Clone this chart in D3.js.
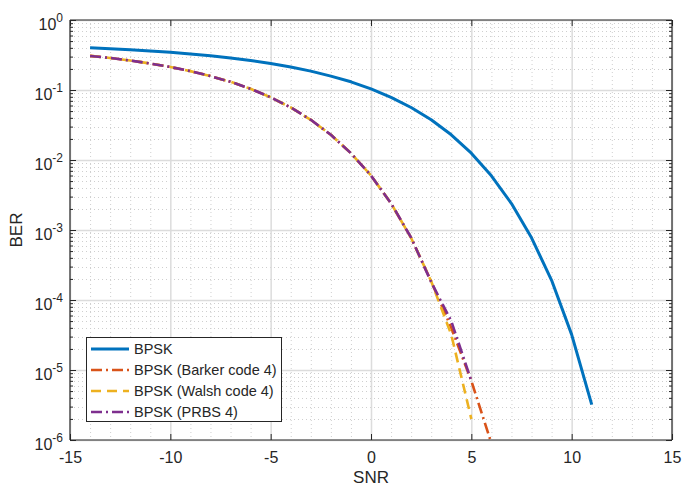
<!DOCTYPE html>
<html><head><meta charset="utf-8">
<script src="https://cdn.jsdelivr.net/npm/d3@7"></script>
<style>
html,body{margin:0;padding:0;background:#fff;}
text{font-family:"Liberation Sans",Arial,Helvetica,sans-serif;fill:#262626;}
</style></head>
<body><svg id="chart" width="682" height="488"></svg>
<script>
// ---- data ----
const snrBPSK   = [-14,-13,-12,-11,-10,-9,-8,-7,-6,-5,-4,-3,-2,-1,0,1,2,3,4,5,6,7,8,9,10,11];
const berBPSK   = [0.400,0.389,0.376,0.361,0.345,0.327,0.308,0.287,0.264,0.239,0.213,0.186,0.158,0.131,0.104,0.0786,0.0563,0.0375,0.0229,0.0125,0.00595,0.00239,0.000773,0.000191,3.2e-5,3.2e-6];
const snrBarker = [-14,-13,-12,-11,-10,-9,-8,-7,-6,-5,-4,-3,-2,-1,0,1,2,3,4,5,6];
const berBarker = [0.307,0.287,0.264,0.239,0.213,0.186,0.158,0.131,0.104,0.0786,0.0563,0.0375,0.0229,0.0125,0.0060,0.00240,0.00077,0.000185,4.0e-5,7.0e-6,9.0e-7];
const snrWalsh  = [-14,-13,-12,-11,-10,-9,-8,-7,-6,-5,-4,-3,-2,-1,0,1,2,3,4,5];
const berWalsh  = [0.307,0.287,0.264,0.239,0.213,0.186,0.158,0.131,0.104,0.0786,0.0563,0.0375,0.0229,0.0125,0.0060,0.00240,0.00077,0.000185,3.2e-5,2.0e-6];
const snrPRBS   = [-14,-13,-12,-11,-10,-9,-8,-7,-6,-5,-4,-3,-2,-1,0,1,2,3,4,5];
const berPRBS   = [0.306,0.287,0.264,0.239,0.213,0.186,0.158,0.131,0.104,0.0786,0.0563,0.0375,0.0229,0.0125,0.0060,0.00240,0.00078,0.000180,5.0e-5,7.0e-6];
const seriesNames = ["BPSK","BPSK (Barker code 4)","BPSK (Walsh code 4)","BPSK (PRBS 4)"];
const xTicks = [-15,-10,-5,0,5,10,15];
const yTicks = [1e-6,1e-5,1e-4,1e-3,1e-2,1e-1,1];
const yTickExp = ["-6","-5","-4","-3","-2","-1","0"];
const xLabel = "SNR", yLabel = "BER";

// ---- layout ----
const L=70,R=672,T=20,B=440;
const svg=d3.select("#chart");
const x=d3.scaleLinear().domain([-15,15]).range([L,R]);
const y=d3.scaleLog().domain([1e-6,1]).range([B,T]);

const colors=["#0072BD","#D95319","#EDB120","#7E2F8E"];
const dashes=[null,"11,4,2,4","10,6","11,4,2,4"];

// minor grid
const xMinor=[];for(let v=-15;v<=15;v++){if(v%5!==0)xMinor.push(v);}
const yMinor=[];for(let e=-6;e<0;e++){for(let m=2;m<=9;m++)yMinor.push(m*Math.pow(10,e));}
const grid=svg.append("g");
grid.selectAll(".xm").data(xMinor).enter().append("line")
 .attr("x1",d=>x(d)+0.5).attr("x2",d=>x(d)+0.5).attr("y1",T).attr("y2",B)
 .attr("stroke","#cfcfcf").attr("stroke-width",1).attr("stroke-dasharray","1,3");
grid.selectAll(".ym").data(yMinor).enter().append("line")
 .attr("y1",d=>Math.round(y(d))+0.5).attr("y2",d=>Math.round(y(d))+0.5).attr("x1",L).attr("x2",R)
 .attr("stroke","#cfcfcf").attr("stroke-width",1).attr("stroke-dasharray","1,3");
// major grid
grid.selectAll(".xg").data(xTicks).enter().append("line")
 .attr("x1",d=>x(d)+0.5).attr("x2",d=>x(d)+0.5).attr("y1",T).attr("y2",B)
 .attr("stroke","#dcdcdc").attr("stroke-width",1.5);
grid.selectAll(".yg").data(yTicks).enter().append("line")
 .attr("y1",d=>Math.round(y(d))+0.5).attr("y2",d=>Math.round(y(d))+0.5).attr("x1",L).attr("x2",R)
 .attr("stroke","#dcdcdc").attr("stroke-width",1.5);

// clip
svg.append("clipPath").attr("id","clip").append("rect").attr("x",L).attr("y",T).attr("width",R-L).attr("height",B-T);

const line=d3.line().x(d=>x(d[0])).y(d=>y(d[1]));
const allSeries=[
 d3.zip(snrBPSK,berBPSK),
 d3.zip(snrBarker,berBarker),
 d3.zip(snrWalsh,berWalsh),
 d3.zip(snrPRBS,berPRBS)
];
const lg=svg.append("g").attr("clip-path","url(#clip)");
allSeries.forEach((s,i)=>{
 lg.append("path").attr("d",line(s)).attr("fill","none")
  .attr("stroke",colors[i]).attr("stroke-width",i===0?3:2.6)
  .attr("stroke-dasharray",dashes[i]).attr("stroke-linejoin","round");
});

// axes
const axCol="#262626";
const xAxis=svg.append("g").attr("transform",`translate(0,${B})`)
 .call(d3.axisBottom(x).tickValues(xTicks).tickSize(-6).tickPadding(14).tickFormat(d=>d));
xAxis.selectAll("text").attr("font-size",16).attr("dy","0.55em");
const xTop=svg.append("g").attr("transform",`translate(0,${T})`)
 .call(d3.axisTop(x).tickValues(xTicks).tickSize(-6).tickFormat(""));
const yAxis=svg.append("g").attr("transform",`translate(${L},0)`)
 .call(d3.axisLeft(y).tickValues(yTicks).tickSize(-6).tickPadding(8).tickFormat(""));
const yRight=svg.append("g").attr("transform",`translate(${R},0)`)
 .call(d3.axisRight(y).tickValues(yTicks).tickSize(-6).tickFormat(""));
const yMinL=svg.append("g").attr("transform",`translate(${L},0)`)
 .call(d3.axisLeft(y).tickValues(yMinor).tickSize(-3).tickFormat(""));
const yMinR=svg.append("g").attr("transform",`translate(${R},0)`)
 .call(d3.axisRight(y).tickValues(yMinor).tickSize(-3).tickFormat(""));
[xAxis,xTop,yAxis,yRight,yMinL,yMinR].forEach(g=>{
 g.select(".domain").attr("stroke",axCol).attr("stroke-width",1.2);
 g.selectAll(".tick line").attr("stroke",axCol).attr("stroke-width",1);
 g.selectAll("text").attr("fill",axCol).attr("font-family","Liberation Sans, Arial, sans-serif");
});
xAxis.selectAll(".domain").attr("d",`M${L},0H${R}`);
xTop.selectAll(".domain").attr("d",`M${L},0H${R}`);
yAxis.selectAll(".domain").attr("d",`M0,${T}V${B}`);
yRight.selectAll(".domain").attr("d",`M0,${T}V${B}`);
yMinL.select(".domain").remove();yMinR.select(".domain").remove();

// y tick labels 10^n
const yl=svg.append("g");
yTicks.forEach((v,i)=>{
 const t=yl.append("text").attr("x",L-7).attr("y",y(v)+10).attr("text-anchor","end").attr("font-size",16);
 t.append("tspan").text("10");
 t.append("tspan").attr("dy",-8).attr("font-size",12).text(yTickExp[i]);
});

// axis labels
svg.append("text").attr("x",(L+R)/2).attr("y",483).attr("text-anchor","middle").attr("font-size",17).text(xLabel);
svg.append("text").attr("transform",`translate(22,${(T+B)/2}) rotate(-90)`).attr("text-anchor","middle").attr("font-size",17).text(yLabel);

// legend
const lgX=86,lgY=337,lgW=195,lgH=84;
svg.append("rect").attr("x",lgX+0.5).attr("y",lgY+0.5).attr("width",lgW).attr("height",lgH)
 .attr("fill","#fff").attr("stroke",axCol).attr("stroke-width",1);
seriesNames.forEach((n,i)=>{
 const yy=lgY+12+i*21;
 svg.append("line").attr("x1",lgX+5).attr("x2",lgX+43).attr("y1",yy).attr("y2",yy)
  .attr("stroke",colors[i]).attr("stroke-width",i===0?3:2.6).attr("stroke-dasharray",dashes[i]);
 svg.append("text").attr("x",lgX+48).attr("y",yy+5).attr("font-size",14.5).text(n);
});
</script></body></html>
